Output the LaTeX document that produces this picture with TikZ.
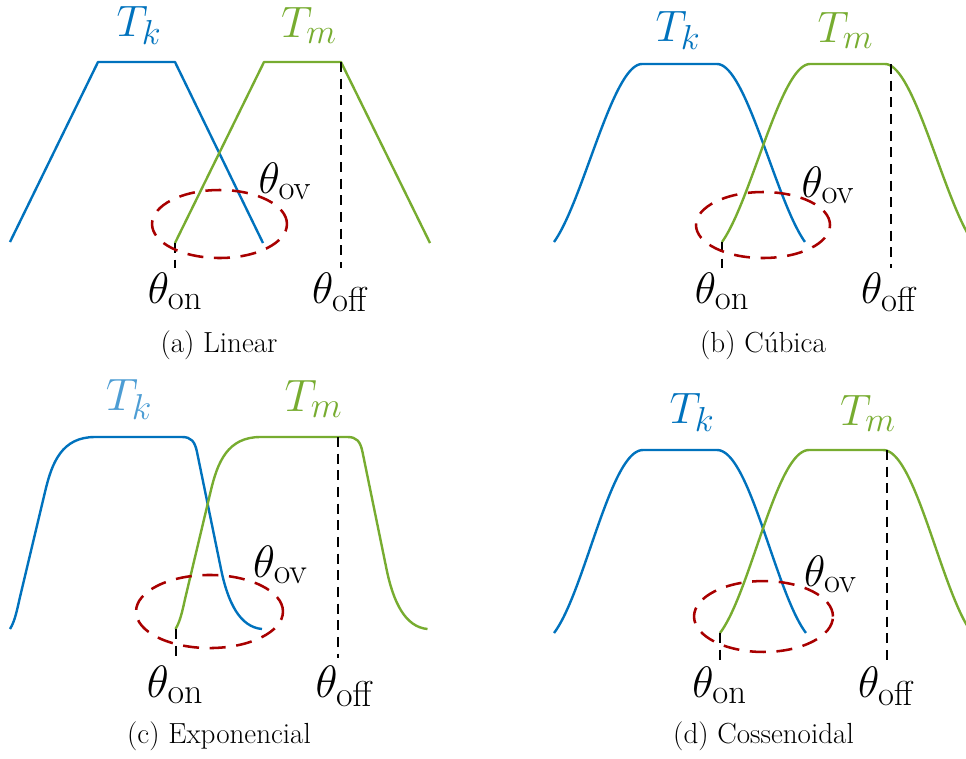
\RequirePackage{fix-cm}
\documentclass[tikz,border=0pt]{standalone}
\DeclareMathSizes{33}{33}{26}{20}
\DeclareMathSizes{34}{34}{27}{21}
\definecolor{mblue}{HTML}{0072BD}
\definecolor{mlblue}{HTML}{4D9DD4}
\definecolor{mgreen}{HTML}{77AC30}
\definecolor{mred}{HTML}{A80000}
\tikzset{
  declare function={
    ssa(\t)=3*\t*\t-2*\t*\t*\t;
    cub(\t)=(ssa(0.15+0.85*\t)-ssa(0.15))/(1-ssa(0.15));
    rca(\t)=(1-cos(180*\t))/2;
    cosn(\t)=(rca(0.15+0.85*\t)-rca(0.15))/(1-rca(0.15));
  },
  bcurve/.style={draw=mblue, line width=1.8pt, line join=round},
  gcurve/.style={draw=mgreen, line width=1.8pt, line join=round},
  guide/.style={draw=black, line width=1.5pt, dash pattern=on 7.5pt off 5pt},
  ovl/.style={draw=mred, line width=1.9pt, dash pattern=on 12pt off 8pt},
  lab/.style={inner sep=0pt, anchor=base, font=\fontsize{33}{37}\selectfont},
  labc/.style={inner sep=0pt, anchor=base, font=\fontsize{34}{38}\selectfont},
  capt/.style={inner sep=0pt, anchor=base, font=\fontsize{21.8}{25}\selectfont}
}
\begin{document}
\begin{tikzpicture}[x=0.75pt,y=-0.75pt]
\useasboundingbox (0,0) rectangle (966,758);
\clip (0,0) rectangle (966,758);

% ---------------- (a) Linear ----------------
\draw[bcurve] (10,242) -- (98,62) -- (175,62) -- (263,243);
\draw[gcurve] (175,243) -- (264,62) -- (341,62) -- (430,243);
\coordinate (aoff1) at (341,62);
\coordinate (aoff2) at (341,268);
\coordinate (aon1) at (175,243);
\coordinate (aon2) at (175,268);
\draw[guide] (aoff1) -- (aoff2);
\draw[guide] (aon1) -- (aon2);
\draw[ovl] (219.5,224) ellipse [x radius=50.6pt, y radius=25.5pt];
\node[lab, text=mblue] (tka) at (139,36) {$T_k$};
\node[lab, text=mgreen] (tma) at (309,37) {$T_m$};
\node[lab] (ova) at (285,193) {$\theta_{\mathrm{ov}}$};
\node[lab] (ona) at (175,303) {$\theta_{\mathrm{on}}$};
\node[lab] (offa) at (340.5,303) {$\theta_{\mathrm{off}}$};
\node[capt] (capa) at (219,352.5) {(a) Linear};

% ---------------- (b) Cubica ----------------
\foreach \dx/\sty in {0/bcurve, 168/gcurve}{
  \draw[\sty] plot[domain=0:1, samples=60, variable=\t] ({554+\dx+88*\t},{242-178*cub(\t)})
     -- plot[domain=0:1, samples=60, variable=\t] ({717+\dx+88*\t},{242-178*cub(1-\t)});
}
\coordinate (boff1) at (891,64);
\coordinate (boff2) at (891,268);
\coordinate (bon1) at (722,242);
\coordinate (bon2) at (722,268);
\draw[guide] (boff1) -- (boff2);
\draw[guide] (bon1) -- (bon2);
\draw[ovl] (763,225) ellipse [x radius=50.25pt, y radius=24.75pt];
\node[lab, text=mblue] (tkb) at (678,41) {$T_k$};
\node[lab, text=mgreen] (tmb) at (845.5,42) {$T_m$};
\node[lab] (ovb) at (828,197) {$\theta_{\mathrm{ov}}$};
\node[lab] (onb) at (722,303) {$\theta_{\mathrm{on}}$};
\node[lab] (offb) at (889.5,303) {$\theta_{\mathrm{off}}$};
\node[capt] (capb) at (763,352.5) {(b) Cúbica};

% ---------------- (c) Exponencial ----------------
\foreach \dx/\sty in {0/bcurve, 165.5/gcurve}{
\begin{scope}[shift={(\dx,0)}]
  \draw[\sty] (10,629) .. controls (15,621) and (17,610) .. (20,597)
     -- (45,492) .. controls (52,462) and (62,437) .. (95,437)
     -- (182,437) .. controls (191,437) and (194.8,441.2) .. (197,452)
     -- (221,569) .. controls (228,603) and (240,627) .. (262,629);
\end{scope}
}
\coordinate (coff1) at (338,437);
\coordinate (coff2) at (338,658);
\coordinate (con1) at (175.5,629);
\coordinate (con2) at (175.5,660);
\draw[guide] (coff1) -- (coff2);
\draw[guide] (con1) -- (con2);
\draw[ovl] (209.5,611.5) ellipse [x radius=55.1pt, y radius=27.4pt];
\node[labc, text=mlblue] (tkc) at (129,410) {$T_k$};
\node[labc, text=mgreen] (tmc) at (313.5,411) {$T_m$};
\node[labc] (ovc) at (280.5,577) {$\theta_{\mathrm{ov}}$};
\node[labc] (onc) at (175,697) {$\theta_{\mathrm{on}}$};
\node[labc] (offc) at (345,697) {$\theta_{\mathrm{off}}$};
\node[capt] (capc) at (219,743) {(c) Exponencial};

% ---------------- (d) Cossenoidal ----------------
\foreach \dx/\sty in {0/bcurve, 166/gcurve}{
  \draw[\sty] plot[domain=0:1, samples=60, variable=\t] ({554+\dx+89*\t},{633-183*cosn(\t)})
     -- plot[domain=0:1, samples=60, variable=\t] ({717+\dx+89*\t},{633-183*cosn(1-\t)});
}
\coordinate (doff1) at (887,450);
\coordinate (doff2) at (887,661);
\coordinate (don1) at (720,633);
\coordinate (don2) at (720,662);
\draw[guide] (doff1) -- (doff2);
\draw[guide] (don1) -- (don2);
\draw[ovl] (763.5,616.5) ellipse [x radius=52.1pt, y radius=26.6pt];
\node[lab, text=mblue] (tkd) at (692,423) {$T_k$};
\node[lab, text=mgreen] (tmd) at (868,425) {$T_m$};
\node[lab] (ovd) at (830.5,586) {$\theta_{\mathrm{ov}}$};
\node[lab] (ond) at (719.5,697) {$\theta_{\mathrm{on}}$};
\node[lab] (offd) at (886.5,697) {$\theta_{\mathrm{off}}$};
\node[capt] (capd) at (763.5,743) {(d) Cossenoidal};
\end{tikzpicture}
\end{document}
